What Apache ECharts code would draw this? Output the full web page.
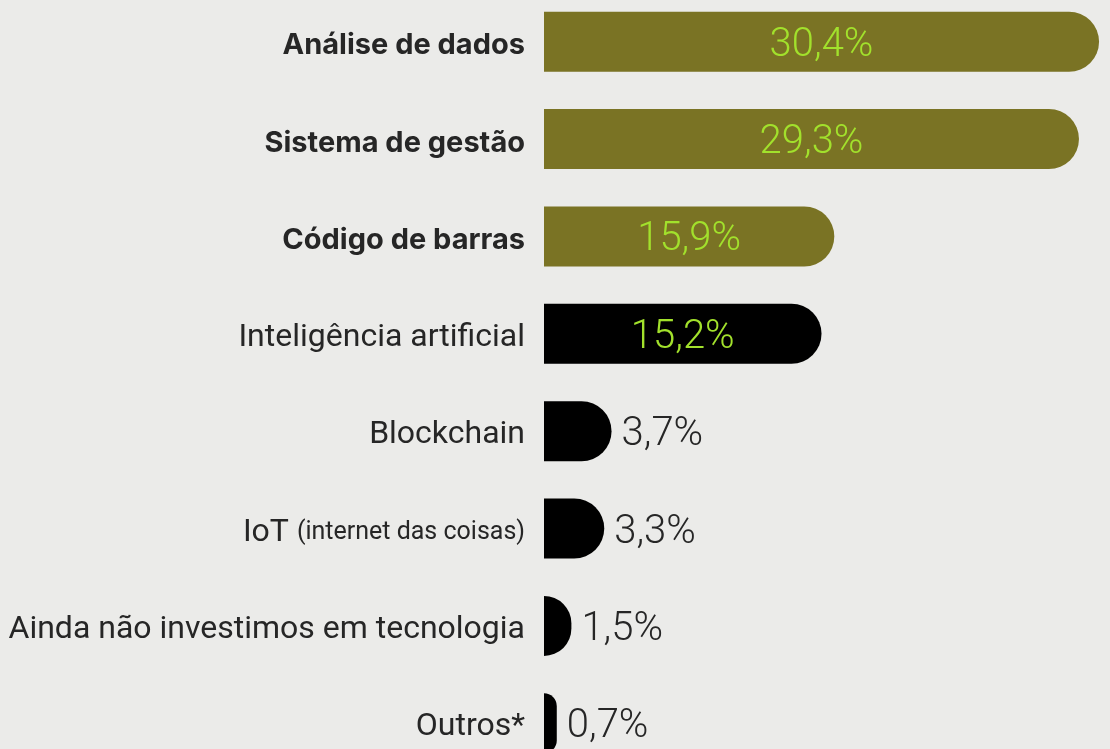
<!DOCTYPE html>
<html>
<head>
<meta charset="utf-8">
<script src="https://cdn.jsdelivr.net/npm/echarts@6/dist/echarts.min.js"></script>
<style>
  html, body { margin: 0; padding: 0; background: #ebebe9; overflow: hidden; }
  #wrap { position: relative; width: 1110px; height: 749px; overflow: hidden; }
  /* o gráfico começa um pouco acima da janela, como no original */
  #chart { position: absolute; left: 0; top: -7px; width: 1110px; height: 779px; }
</style>
</head>
<body>
<div id="wrap"><div id="chart"></div></div>
<script>
// categorias (de cima para baixo) e valores em %
const categories = [
  "Análise de dados",
  "Sistema de gestão",
  "Código de barras",
  "Inteligência artificial",
  "Blockchain",
  "IoT (internet das coisas)",
  "Ainda não investimos em tecnologia",
  "Outros*"
];
const values = [30.4, 29.3, 15.9, 15.2, 3.7, 3.3, 1.5, 0.7];
// as três primeiras aparecem em destaque
const highlighted = [true, true, true, false, false, false, false, false];

const olive = "#7a7324";
const lime = "#a2e12c";
const ink = "#262626";

let el = document.getElementById("chart");
let myChart = echarts.init(el);

let seriesData = values.map(function (v, i) {
  let inside = v >= 5;
  return {
    value: v,
    itemStyle: { color: highlighted[i] ? olive : "#000000" },
    label: inside
      ? { position: "inside", color: lime }
      : { position: "right", color: ink, distance: 10 }
  };
});

myChart.setOption({
  backgroundColor: "#ebebe9",
  animation: false,
  grid: {
    left: 544,
    right: 0,
    top: 0,
    bottom: 0
  },
  xAxis: {
    type: "value",
    min: 0,
    max: 31,
    show: false
  },
  yAxis: {
    type: "category",
    data: categories,
    inverse: true,
    axisLine: { show: false },
    axisTick: { show: false },
    splitLine: { show: false },
    axisLabel: {
      margin: 19,
      padding: [8, 0, 0, 0],
      formatter: function (name, i) {
        if (highlighted[i]) return "{b|" + name + "}";
        if (name.indexOf("(") > 0) {
          let k = name.indexOf("(");
          return "{r|" + name.slice(0, k) + "}{s|" + name.slice(k) + "}";
        }
        return "{r|" + name + "}";
      },
      rich: {
        b: { fontFamily: "Inter", fontWeight: 700, fontSize: 29, color: ink },
        r: { fontFamily: "Roboto", fontWeight: 400, fontSize: 32, color: ink },
        s: { fontFamily: "Roboto", fontWeight: 400, fontSize: 25, color: ink }
      }
    }
  },
  series: [
    {
      type: "bar",
      data: seriesData,
      barWidth: 60,
      itemStyle: { borderRadius: [0, 30, 30, 0] },
      label: {
        show: true,
        offset: [0, 4],
        fontFamily: "Roboto",
        fontWeight: 300,
        fontSize: 40,
        formatter: function (p) {
          return String(p.value).replace(".", ",") + "%";
        }
      }
    }
  ]
});
</script>
</body>
</html>
